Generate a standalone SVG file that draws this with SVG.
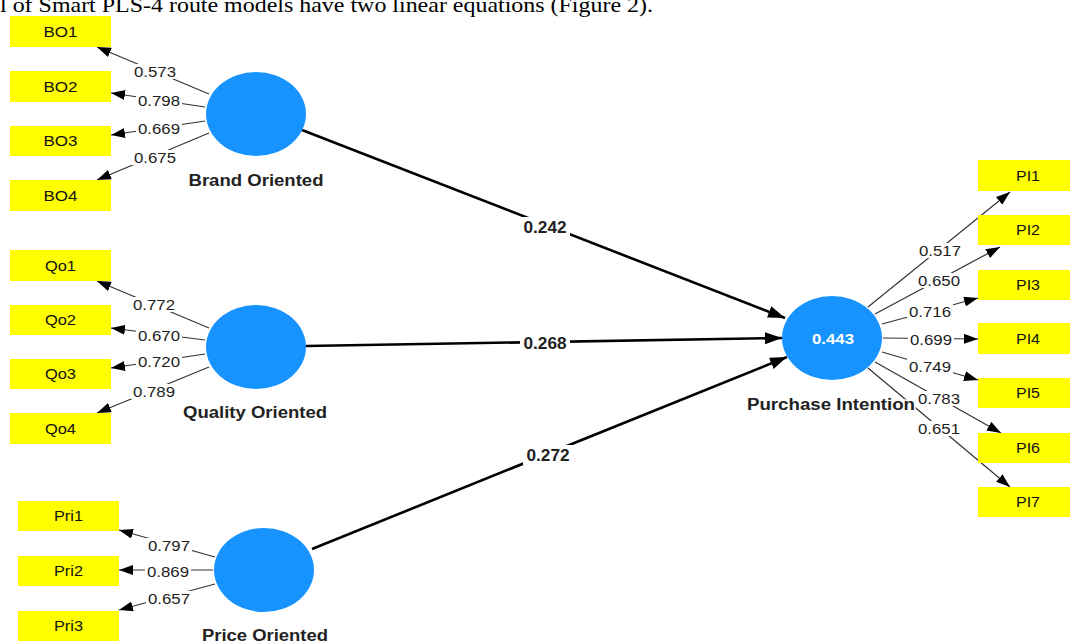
<svg xmlns="http://www.w3.org/2000/svg" width="1070" height="642" viewBox="0 0 1070 642">
<style>
.box{fill:#FFFF00}
.bt{font-family:"Liberation Sans",Arial,sans-serif;font-size:14px;fill:#111;text-anchor:middle}
.lv{fill:#1793FF}
.nl{font-family:"Liberation Sans",Arial,sans-serif;font-size:16px;font-weight:bold;fill:#222;text-anchor:middle;paint-order:stroke;stroke:#fff;stroke-width:3px}
.r2{font-family:"Liberation Sans",Arial,sans-serif;font-size:15px;font-weight:bold;fill:#fff;text-anchor:middle}
.ol{stroke:#333;stroke-width:1.2;fill:none;marker-end:url(#ah)}
.sl{stroke:#000;stroke-width:2.6;fill:none;marker-end:url(#ahb)}
.lbg{fill:#fff}
.lt{font-family:"Liberation Sans",Arial,sans-serif;font-size:15px;fill:#222;text-anchor:middle}
.st{font-family:"Liberation Sans",Arial,sans-serif;font-size:16px;font-weight:bold;fill:#222;text-anchor:middle}
.cap{font-family:"Liberation Serif","Times New Roman",serif;font-size:21px;fill:#000}
</style>
<defs>
<marker id="ah" markerWidth="14" markerHeight="10" refX="14" refY="5" orient="auto" markerUnits="userSpaceOnUse"><path d="M0,0 L14,5 L0,10 z" fill="#000"/></marker>
<marker id="ahb" markerWidth="17" markerHeight="12" refX="17" refY="6" orient="auto" markerUnits="userSpaceOnUse"><path d="M0,0 L17,6 L0,12 z" fill="#000"/></marker>
</defs>
<rect width="1070" height="642" fill="#fff"/>
<text class="cap" x="0" y="12" textLength="653" lengthAdjust="spacingAndGlyphs">l of Smart PLS-4 route models have two linear equations (Figure 2).</text>

<g id="connectors">
<line class="sl" x1="302" y1="130" x2="785" y2="318"/>
<line class="sl" x1="306" y1="346" x2="782" y2="338"/>
<line class="sl" x1="312" y1="549" x2="787" y2="357"/>
<line class="ol" x1="209" y1="94" x2="97" y2="47"/>
<line class="ol" x1="205" y1="107" x2="111" y2="93"/>
<line class="ol" x1="205" y1="121" x2="111" y2="135"/>
<line class="ol" x1="209" y1="133" x2="97" y2="180"/>
<line class="ol" x1="209" y1="328" x2="97" y2="281"/>
<line class="ol" x1="205" y1="340" x2="111" y2="328"/>
<line class="ol" x1="205" y1="354" x2="111" y2="368"/>
<line class="ol" x1="209" y1="367" x2="97" y2="413"/>
<line class="ol" x1="215" y1="557" x2="119" y2="530"/>
<line class="ol" x1="213" y1="570" x2="119" y2="570"/>
<line class="ol" x1="215" y1="584" x2="119" y2="610"/>
<line class="ol" x1="868" y1="307" x2="1010" y2="192"/>
<line class="ol" x1="875" y1="314" x2="1000" y2="247"/>
<line class="ol" x1="882" y1="324" x2="978" y2="298"/>
<line class="ol" x1="883" y1="338" x2="978" y2="339"/>
<line class="ol" x1="882" y1="352" x2="978" y2="380"/>
<line class="ol" x1="875" y1="362" x2="1001" y2="433"/>
<line class="ol" x1="868" y1="368" x2="1010" y2="487"/>
<g id="path-labels">
<rect class="lbg" x="520" y="217" width="50" height="20"/><text class="st" x="545" y="233" textLength="43" lengthAdjust="spacingAndGlyphs">0.242</text>
<rect class="lbg" x="520" y="333" width="50" height="20"/><text class="st" x="545" y="349" textLength="43" lengthAdjust="spacingAndGlyphs">0.268</text>
<rect class="lbg" x="523" y="445" width="50" height="20"/><text class="st" x="548" y="461" textLength="43" lengthAdjust="spacingAndGlyphs">0.272</text>
</g>
<g id="loading-labels">
<rect class="lbg" x="132" y="64" width="46" height="15"/><text class="lt" x="155" y="77" textLength="42" lengthAdjust="spacingAndGlyphs">0.573</text>
<rect class="lbg" x="136" y="93" width="46" height="15"/><text class="lt" x="159" y="106" textLength="42" lengthAdjust="spacingAndGlyphs">0.798</text>
<rect class="lbg" x="136" y="121" width="46" height="15"/><text class="lt" x="159" y="134" textLength="42" lengthAdjust="spacingAndGlyphs">0.669</text>
<rect class="lbg" x="132" y="150" width="46" height="15"/><text class="lt" x="155" y="163" textLength="42" lengthAdjust="spacingAndGlyphs">0.675</text>
<rect class="lbg" x="131" y="297" width="46" height="15"/><text class="lt" x="154" y="310" textLength="42" lengthAdjust="spacingAndGlyphs">0.772</text>
<rect class="lbg" x="136" y="328" width="46" height="15"/><text class="lt" x="159" y="341" textLength="42" lengthAdjust="spacingAndGlyphs">0.670</text>
<rect class="lbg" x="136" y="354" width="46" height="15"/><text class="lt" x="159" y="367" textLength="42" lengthAdjust="spacingAndGlyphs">0.720</text>
<rect class="lbg" x="131" y="384" width="46" height="15"/><text class="lt" x="154" y="397" textLength="42" lengthAdjust="spacingAndGlyphs">0.789</text>
<rect class="lbg" x="146" y="538" width="46" height="15"/><text class="lt" x="169" y="551" textLength="42" lengthAdjust="spacingAndGlyphs">0.797</text>
<rect class="lbg" x="145" y="564" width="46" height="15"/><text class="lt" x="168" y="577" textLength="42" lengthAdjust="spacingAndGlyphs">0.869</text>
<rect class="lbg" x="146" y="591" width="46" height="15"/><text class="lt" x="169" y="604" textLength="42" lengthAdjust="spacingAndGlyphs">0.657</text>
<rect class="lbg" x="917" y="243" width="46" height="15"/><text class="lt" x="940" y="256" textLength="42" lengthAdjust="spacingAndGlyphs">0.517</text>
<rect class="lbg" x="916" y="273" width="46" height="15"/><text class="lt" x="939" y="286" textLength="42" lengthAdjust="spacingAndGlyphs">0.650</text>
<rect class="lbg" x="907" y="304" width="46" height="15"/><text class="lt" x="930" y="317" textLength="42" lengthAdjust="spacingAndGlyphs">0.716</text>
<rect class="lbg" x="908" y="332" width="46" height="15"/><text class="lt" x="931" y="345" textLength="42" lengthAdjust="spacingAndGlyphs">0.699</text>
<rect class="lbg" x="907" y="359" width="46" height="15"/><text class="lt" x="930" y="372" textLength="42" lengthAdjust="spacingAndGlyphs">0.749</text>
<rect class="lbg" x="916" y="391" width="46" height="15"/><text class="lt" x="939" y="404" textLength="42" lengthAdjust="spacingAndGlyphs">0.783</text>
<rect class="lbg" x="916" y="421" width="46" height="15"/><text class="lt" x="939" y="434" textLength="42" lengthAdjust="spacingAndGlyphs">0.651</text>
</g>
</g>

<g id="brand-oriented"><ellipse class="lv" cx="256" cy="114" rx="50" ry="42"/><text class="nl" x="256" y="186" textLength="135" lengthAdjust="spacingAndGlyphs">Brand Oriented</text></g>
<g id="quality-oriented"><ellipse class="lv" cx="256" cy="347" rx="50" ry="42"/><text class="nl" x="255" y="418" textLength="144" lengthAdjust="spacingAndGlyphs">Quality Oriented</text></g>
<g id="price-oriented"><ellipse class="lv" cx="264" cy="570" rx="50" ry="42"/><text class="nl" x="265" y="641" textLength="126" lengthAdjust="spacingAndGlyphs">Price Oriented</text></g>
<g id="purchase-intention"><ellipse class="lv" cx="832" cy="338" rx="50" ry="42"/><text class="r2" x="833" y="344" textLength="42" lengthAdjust="spacingAndGlyphs">0.443</text><text class="nl" x="831" y="410" textLength="168" lengthAdjust="spacingAndGlyphs">Purchase Intention</text></g>

<g id="BO1"><rect class="box" x="10" y="16" width="101" height="31"/><text class="bt" x="60.5" y="37" textLength="34" lengthAdjust="spacingAndGlyphs">BO1</text></g>
<g id="BO2"><rect class="box" x="10" y="71" width="101" height="31"/><text class="bt" x="60.5" y="92" textLength="34" lengthAdjust="spacingAndGlyphs">BO2</text></g>
<g id="BO3"><rect class="box" x="10" y="126" width="101" height="30"/><text class="bt" x="60.5" y="146" textLength="34" lengthAdjust="spacingAndGlyphs">BO3</text></g>
<g id="BO4"><rect class="box" x="10" y="180" width="101" height="31"/><text class="bt" x="60.5" y="201" textLength="34" lengthAdjust="spacingAndGlyphs">BO4</text></g>
<g id="Qo1"><rect class="box" x="10" y="250" width="101" height="31"/><text class="bt" x="60.5" y="271" textLength="31" lengthAdjust="spacingAndGlyphs">Qo1</text></g>
<g id="Qo2"><rect class="box" x="10" y="305" width="101" height="30"/><text class="bt" x="60.5" y="325" textLength="31" lengthAdjust="spacingAndGlyphs">Qo2</text></g>
<g id="Qo3"><rect class="box" x="10" y="359" width="101" height="30"/><text class="bt" x="60.5" y="379" textLength="31" lengthAdjust="spacingAndGlyphs">Qo3</text></g>
<g id="Qo4"><rect class="box" x="10" y="413" width="101" height="31"/><text class="bt" x="60.5" y="434" textLength="31" lengthAdjust="spacingAndGlyphs">Qo4</text></g>
<g id="Pri1"><rect class="box" x="18" y="501" width="101" height="30"/><text class="bt" x="68.5" y="521" textLength="29" lengthAdjust="spacingAndGlyphs">Pri1</text></g>
<g id="Pri2"><rect class="box" x="18" y="556" width="101" height="30"/><text class="bt" x="68.5" y="576" textLength="29" lengthAdjust="spacingAndGlyphs">Pri2</text></g>
<g id="Pri3"><rect class="box" x="18" y="611" width="101" height="30"/><text class="bt" x="68.5" y="631" textLength="29" lengthAdjust="spacingAndGlyphs">Pri3</text></g>
<g id="PI1"><rect class="box" x="978" y="160" width="101" height="31"/><text class="bt" x="1028" y="181" textLength="24" lengthAdjust="spacingAndGlyphs">PI1</text></g>
<g id="PI2"><rect class="box" x="978" y="215" width="101" height="30"/><text class="bt" x="1028" y="235" textLength="24" lengthAdjust="spacingAndGlyphs">PI2</text></g>
<g id="PI3"><rect class="box" x="978" y="270" width="101" height="30"/><text class="bt" x="1028" y="290" textLength="24" lengthAdjust="spacingAndGlyphs">PI3</text></g>
<g id="PI4"><rect class="box" x="978" y="323" width="101" height="31"/><text class="bt" x="1028" y="344" textLength="24" lengthAdjust="spacingAndGlyphs">PI4</text></g>
<g id="PI5"><rect class="box" x="978" y="378" width="101" height="30"/><text class="bt" x="1028" y="398" textLength="24" lengthAdjust="spacingAndGlyphs">PI5</text></g>
<g id="PI6"><rect class="box" x="978" y="433" width="101" height="30"/><text class="bt" x="1028" y="453" textLength="24" lengthAdjust="spacingAndGlyphs">PI6</text></g>
<g id="PI7"><rect class="box" x="978" y="487" width="101" height="30"/><text class="bt" x="1028" y="507" textLength="24" lengthAdjust="spacingAndGlyphs">PI7</text></g>
</svg>
